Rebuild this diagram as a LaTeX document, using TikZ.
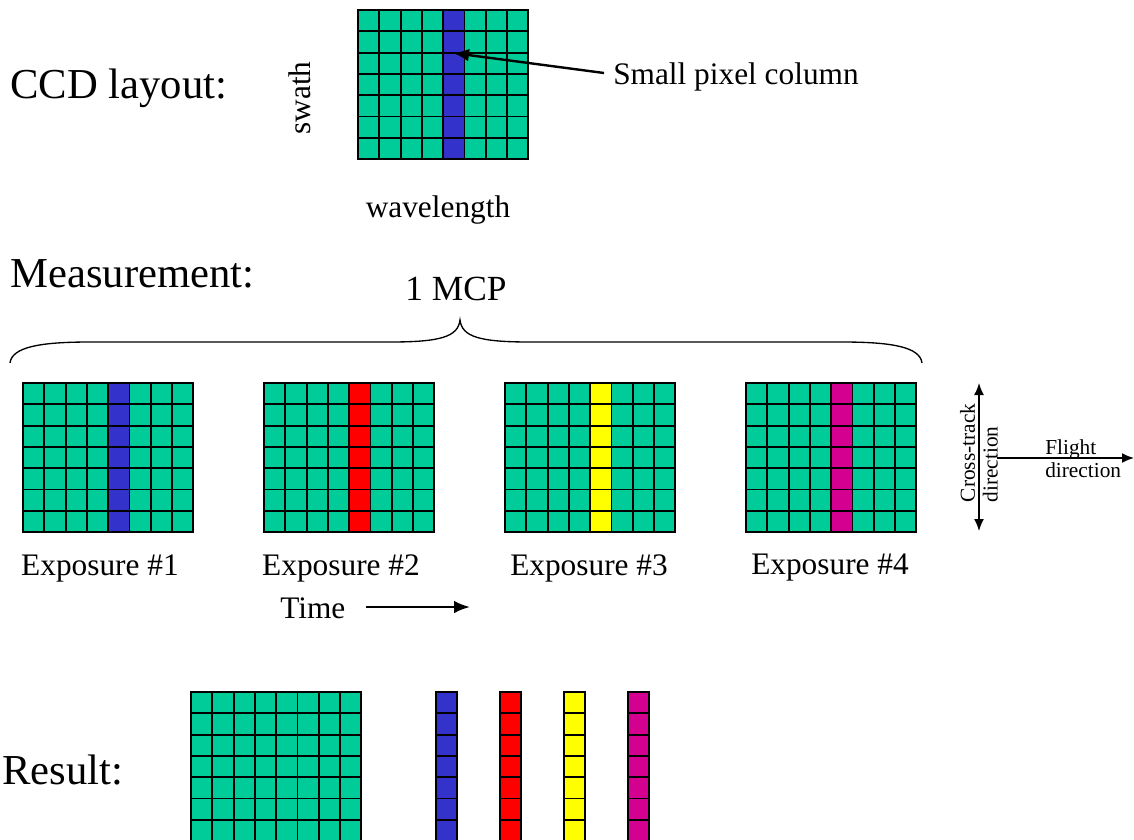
\documentclass[tikz,border=0pt]{standalone}
\usepackage{fontspec}
\setmainfont{Liberation Serif}
\usetikzlibrary{arrows.meta}

\definecolor{ccdgreen}{RGB}{0,204,153}
\definecolor{ccdblue}{RGB}{51,51,204}
\definecolor{ccdred}{RGB}{255,0,0}
\definecolor{ccdyellow}{RGB}{255,255,0}
\definecolor{ccdmagenta}{RGB}{212,0,143}

% 8x7 pixel grid: #1 left, #2 top, #3 colour of the 5th column
\newcommand{\ccdgrid}[3]{%
    \fill[ccdgreen] (#1,#2) rectangle ++(170.4,149.1);
    \fill[#3] (#1+85.2,#2) rectangle ++(21.3,149.1);
    \foreach \i in {0,...,8} \draw[cell] (#1+\i*21.3,#2) -- ++(0,149.1);
    \foreach \j in {0,...,7} \draw[cell] (#1,#2+\j*21.3) -- ++(170.4,0);
}
% single pixel column: #1 left, #2 top, #3 colour
\newcommand{\ccdcolumn}[3]{%
    \fill[#3] (#1,#2) rectangle ++(21.3,149.1);
    \foreach \j in {0,...,7} \draw[cell] (#1,#2+\j*21.3) -- ++(21.3,0);
    \draw[cell] (#1,#2) -- ++(0,149.1) (#1+21.3,#2) -- ++(0,149.1);
}

\begin{document}
\begin{tikzpicture}[
    x=0.75pt, y=-0.75pt,
    cell/.style={line width=1.4pt, line cap=rect},
    bigtxt/.style={font=\fontsize{32}{36}\selectfont, inner sep=0pt},
    txt/.style={font=\fontsize{23.5}{27}\selectfont, inner sep=0pt},
    smalltxt/.style={font=\fontsize{16}{17}\selectfont, inner sep=0pt},
    arrow/.style={-{Latex[length=12pt, width=9.5pt]}, line width=1.8pt},
    thinarrow/.style={-{Latex[length=9pt, width=7.5pt]}, line width=1.2pt},
    brace/.style={line width=1pt}
]
    \useasboundingbox (0,0) rectangle (1134,839);

    % CCD layout
    \node[bigtxt, anchor=west] (ccdlayout) at (10,88) {CCD layout:};
    \ccdgrid{358}{10}{ccdblue}
    \node[txt, rotate=90] (swath) at (300,98) {swath};
    \node[txt] (wavelength) at (438,210) {wavelength};
    \node[txt, anchor=west] (pixcol) at (613,77) {Small pixel column};
    \coordinate (colpoint) at (453,53);
    \coordinate (pixstart) at ([shift={(-9,-4)}]pixcol.west);
    \draw[arrow] (pixstart) -- (colpoint);

    % Measurement
    \node[bigtxt, anchor=west] (measurement) at (10,274) {Measurement:};
    \node[txt, font=\fontsize{26.5}{30}\selectfont] (mcp) at (456,289) {1 MCP};
    \draw[brace] (10,363) .. controls (12,347) and (40,342) .. (90,342)
        -- (390,342) .. controls (440,342) and (458,337) .. (460,320)
        .. controls (462,337) and (480,342) .. (530,342)
        -- (842,342) .. controls (892,342) and (920,347) .. (922,363);

    \ccdgrid{23}{383}{ccdblue}
    \ccdgrid{264}{383}{ccdred}
    \ccdgrid{505}{383}{ccdyellow}
    \ccdgrid{746}{383}{ccdmagenta}
    \node[txt] (exp1) at (100,568) {Exposure \#1};
    \node[txt] (exp2) at (341,568) {Exposure \#2};
    \node[txt] (exp3) at (589,568) {Exposure \#3};
    \node[txt] (exp4) at (830,568) {Exposure \#4};

    \node[txt, anchor=west] (time) at (280,608) {Time};
    \coordinate (timeend) at (470,607);
    \draw[arrow] ([xshift=15]time.east |- timeend) -- (timeend);

    % directions
    \coordinate (ctop) at (979,383);
    \coordinate (cbot) at (979,531);
    \draw[thinarrow, {Latex[length=9pt, width=7.5pt]}-{Latex[length=9pt, width=7.5pt]}] (ctop) -- (cbot);
    \node[smalltxt, rotate=90, align=left] (crosstrack) at (979,453) {Cross-track\\direction};
    \coordinate (fstart) at (997,458);
    \coordinate (fend) at (1134,458);
    \draw[thinarrow] (fstart) -- (fend);
    \node[smalltxt, anchor=west, align=left] (flight) at (1045,459) {Flight\\direction};

    % Result
    \node[bigtxt, anchor=west] (result) at (2,770) {Result:};
    \ccdgrid{191}{692}{ccdgreen}
    \ccdcolumn{436}{692}{ccdblue}
    \ccdcolumn{500}{692}{ccdred}
    \ccdcolumn{564}{692}{ccdyellow}
    \ccdcolumn{628}{692}{ccdmagenta}
\end{tikzpicture}
\end{document}
